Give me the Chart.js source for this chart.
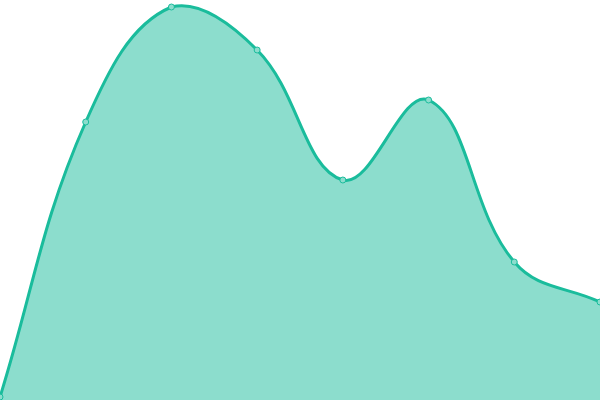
<!DOCTYPE html>
<html>
<head>
<meta charset="utf-8">
<script src="https://cdn.jsdelivr.net/npm/chart.js@4"></script>
<style>
  html, body { margin: 0; padding: 0; background: #fff; }
  #wrap { width: 600px; height: 400px; }
</style>
</head>
<body>
<div id="wrap"><canvas id="areaChart"></canvas></div>
<script>
// chart values
const labels = ['1', '2', '3', '4', '5', '6', '7', '8'];
const values = [0.75, 69.5, 98.25, 87.5, 55, 75, 34.5, 24.5];
const yMin = 0;
const yMax = 100;

const ctx = document.getElementById('areaChart');
new Chart(ctx, {
    type: 'line',
    data: {
        labels: labels,
        datasets: [{
            data: values,
            fill: 'origin',
            tension: 0.4,
            borderColor: '#1abc9c',
            borderWidth: 3,
            backgroundColor: 'rgba(26, 188, 156, 0.5)',
            pointRadius: 3,
            pointBorderWidth: 1,
            pointBackgroundColor: '#8cddcd',
            pointBorderColor: '#1abc9c'
        }]
    },
    options: {
        responsive: true,
        maintainAspectRatio: false,
        animation: false,
        layout: { padding: 0, autoPadding: false },
        plugins: {
            legend: { display: false },
            tooltip: { enabled: false }
        },
        scales: {
            x: { display: false, offset: false },
            y: { display: false, min: yMin, max: yMax }
        }
    }
});
</script>
</body>
</html>
